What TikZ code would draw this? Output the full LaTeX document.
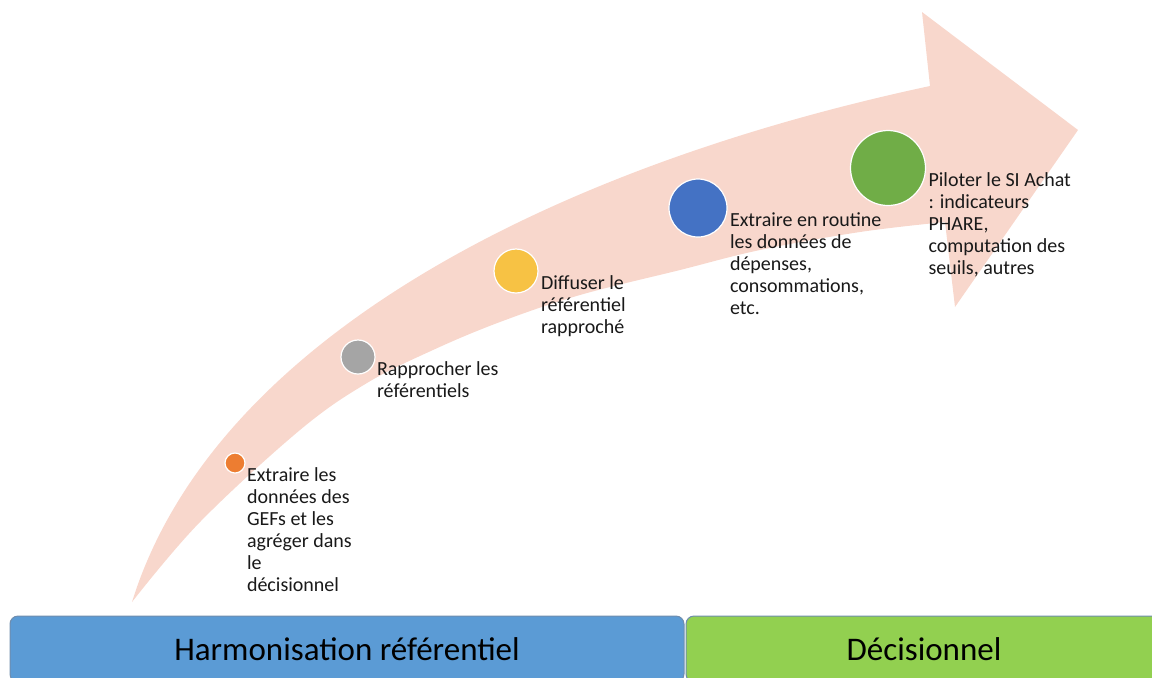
\documentclass[tikz,border=0pt]{standalone}
\usepackage{fontspec}
\setmainfont{Carlito}
\usetikzlibrary{positioning}

\definecolor{arrowpink}{HTML}{F8D7CC}
\definecolor{dotorange}{HTML}{ED7D31}
\definecolor{dotgray}{HTML}{A5A5A5}
\definecolor{dotyellow}{HTML}{F7C244}
\definecolor{dotblue}{HTML}{4472C4}
\definecolor{dotgreen}{HTML}{70AD47}
\definecolor{barblue}{HTML}{5B9BD5}
\definecolor{bargreen}{HTML}{92D050}
\definecolor{barline}{HTML}{6F8DAE}

\begin{document}
\begin{tikzpicture}[x=0.5pt,y=-0.5pt,
    dot/.style={circle,draw=white,line width=0.6pt,inner sep=0pt},
    txt/.style={align=left,inner sep=0pt,text=black!90,font=\fontsize{10}{11}\selectfont},
    bar/.style={draw=barline,line width=0.5pt,rounded corners=4pt,minimum height=33pt,inner sep=0pt,font=\fontsize{16.5}{20}\selectfont}]

  \path[use as bounding box] (0,0) rectangle (1152,677);
  \clip (0,0) rectangle (1152,677);

  % big curved arrow
  \fill[arrowpink] (132,602) .. controls (215,335) and (560,165) .. (930,86)
    -- (922,12) -- (1078,130) -- (955,307) -- (945,222)
    -- plot[smooth,tension=0.6] coordinates {(945,222) (860,232) (760,250) (680,270) (580,295) (500,322) (433,350) (367,383) (300,430) (200,522) (132,602)}
    -- cycle;

  \node[dot,fill=dotorange,minimum size=10pt]   (d1) at (235,463) {};
  \node[dot,fill=dotgray,minimum size=17pt]     (d2) at (358,357) {};
  \node[dot,fill=dotyellow,minimum size=22pt]   (d3) at (516,271) {};
  \node[dot,fill=dotblue,minimum size=29pt]     (d4) at (698,208) {};
  \node[dot,fill=dotgreen,minimum size=37.5pt]  (d5) at (888,168) {};

  \node[txt] (t1) [right=0.5pt of d1.east,anchor=north west,yshift=-2pt] {Extraire les\\données des\\GEFs et les\\agréger dans\\le\\décisionnel};
  \node[txt] (t2) [right=0.5pt of d2.east,anchor=north west,yshift=-2pt] {Rapprocher les\\référentiels};
  \node[txt] (t3) [right=1pt of d3.east,anchor=north west,yshift=-2pt] {Diffuser le\\référentiel\\rapproché};
  \node[txt] (t4) [right=1pt of d4.east,anchor=north west,yshift=-2pt] {Extraire en routine\\les données de\\dépenses,\\consommations,\\etc.};
  \node[txt] (t5) [right=1pt of d5.east,anchor=north west,yshift=-2pt] {Piloter le SI Achat\\: indicateurs\\PHARE,\\computation des\\seuils, autres};

  % phases
  \node[bar,fill=barblue,minimum width=337pt] (harm) at (347,649) {Harmonisation référentiel};
  \node[bar,fill=bargreen,minimum width=238pt] (dec) [right=0.5pt of harm] {Décisionnel};

\end{tikzpicture}
\end{document}
